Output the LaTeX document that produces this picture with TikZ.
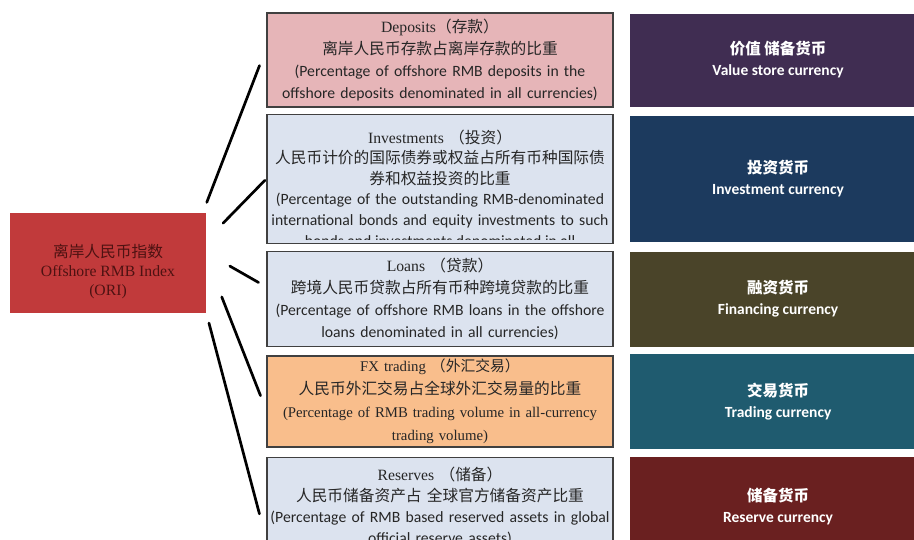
\documentclass[tikz,border=0pt]{standalone}
\usepackage{fontspec}
\setmainfont{Liberation Serif}
\newfontfamily\calfont{Carlito}
\newfontfamily\cjk{Noto Sans CJK SC}
\usetikzlibrary{positioning}

\definecolor{orired}{HTML}{C13A3B}
\definecolor{oritext}{HTML}{4E1212}
\definecolor{depfill}{HTML}{E6B5B8}
\definecolor{bluefill}{HTML}{DCE3EF}
\definecolor{fxfill}{HTML}{F9BE8C}
\definecolor{valfill}{HTML}{402D52}
\definecolor{invfill}{HTML}{1C3A5E}
\definecolor{finfill}{HTML}{4A4429}
\definecolor{trdfill}{HTML}{1F5B6F}
\definecolor{rsvfill}{HTML}{6A2020}
\definecolor{boxtext}{HTML}{262626}

\begin{document}
\begin{tikzpicture}[x=1pt,y=-1pt,thick,
		index node/.style={fill=orired,text=oritext,minimum width=196pt,minimum height=100pt,align=center,text height=68pt,text depth=4pt,font=\fontsize{15.7}{19}\selectfont},
		mid node/.style={draw=black!75,line width=1.3pt,minimum width=346pt,text width=340pt,inner sep=2pt,align=center,text=boxtext,font=\fontsize{15.7}{22}\selectfont},
		role node/.style={minimum width=296pt,inner sep=3pt,text=white,align=center,font=\calfont\bfseries\fontsize{15.5}{21}\selectfont},
		link/.style={line width=2.7pt,line cap=round}]
		\useasboundingbox (0,0) rectangle (914,539);
		
		% index
		\node[index node] (ori) at (108,263) {{\cjk 离岸人民币指数}\\Offshore RMB Index\\(ORI)};
		
		% indicators
		\node[mid node, fill=depfill, minimum height=94pt] (dep) at (440,60) {Deposits{\cjk（存款）}\\{\cjk 离岸人民币存款占离岸存款的比重}\\{\calfont (Percentage of offshore RMB deposits in the\\offshore deposits denominated in all currencies)}};
		\node[mid node, fill=bluefill, minimum height=129pt, below=6pt of dep, font=\fontsize{15.7}{20.5}\selectfont] (inv) {Investments {\cjk（投资）}\\{\cjk 人民币计价的国际债券或权益占所有币种国际债\\券和权益投资的比重}\\{\calfont (Percentage of the outstanding RMB-denominated\\international bonds and equity investments to such}};
		\node[mid node, fill=bluefill, minimum height=95pt, below=7pt of inv] (loan) {Loans {\cjk（贷款）}\\{\cjk 跨境人民币贷款占所有币种跨境贷款的比重}\\{\calfont (Percentage of offshore RMB loans in the offshore\\loans denominated in all currencies)}};
		\node[mid node, fill=fxfill, minimum height=91pt, below=8pt of loan, font=\fontsize{14.8}{23}\selectfont] (fx) {FX trading {\cjk（外汇交易）}\\{\cjk\fontsize{15.7}{23}\selectfont 人民币外汇交易占全球外汇交易量的比重}\\(Percentage of RMB trading volume in all-currency\\trading volume)};
		\node[mid node, fill=bluefill, minimum height=98pt, below=9pt of fx, font=\fontsize{15.7}{21}\selectfont] (res) {Reserves {\cjk（储备）}\\{\cjk 人民币储备资产占 全球官方储备资产比重}\\{\calfont (Percentage of RMB based reserved assets in global\\official reserve assets)}};
		
		% cut-off line
		\begin{scope}
			\clip ([yshift=-1pt]inv.north west) rectangle ([yshift=4pt]inv.south east);
			\node[anchor=base, text=boxtext, font=\calfont\fontsize{15.7}{20.5}\selectfont] (invcut) at ([yshift=-3pt]inv.south) {bonds and investments denominated in all};
		\end{scope}
		
		% roles
		\node[role node, fill=valfill, minimum height=93pt, right=16pt of dep] (val) {{\cjk\bfseries 价值 储备货币}\\Value store currency};
		\node[role node, fill=invfill, minimum height=126pt, right=16pt of inv] (invc) {{\cjk\bfseries 投资货币}\\Investment currency};
		\node[role node, fill=finfill, minimum height=95pt, right=16pt of loan] (fin) {{\cjk\bfseries 融资货币}\\Financing currency};
		\node[role node, fill=trdfill, minimum height=95pt, right=16pt of fx] (trd) {{\cjk\bfseries 交易货币}\\Trading currency};
		\node[role node, fill=rsvfill, minimum height=98pt, right=16pt of res] (rsv) {{\cjk\bfseries 储备货币}\\Reserve currency};
		
		% links
		\path[link]
		(ori.28) edge[shorten <=11pt, shorten >=19pt] (dep.176)
		(ori.13) edge[shorten <=24pt, shorten >=2pt] (inv.west)
		(ori.6) edge[shorten <=27pt, shorten >=9pt] (loan.176)
		(ori.3) edge[shorten <=42pt, shorten >=16pt] (fx.183)
		(ori.south east) edge[shorten <=10pt, shorten >=27pt] (res.191);
\end{tikzpicture}
\end{document}
